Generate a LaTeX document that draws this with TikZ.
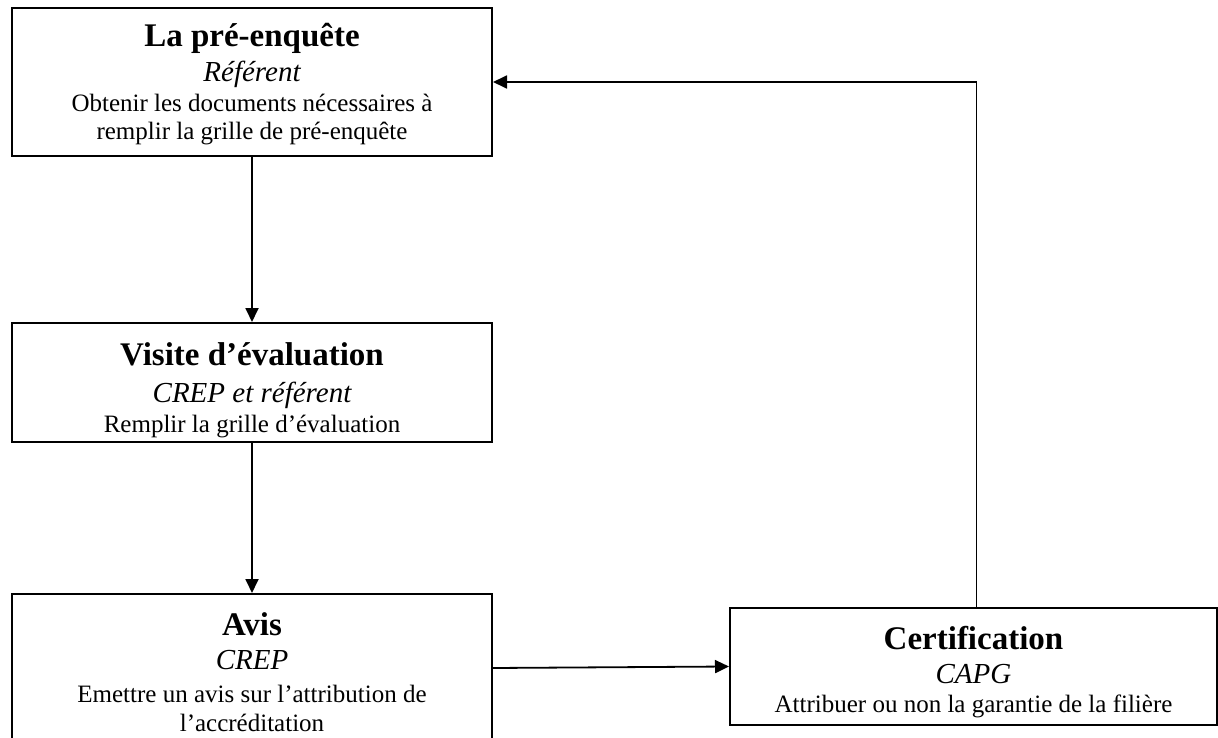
\documentclass[tikz,border=0pt]{standalone}
\usepackage{fontspec}
\setmainfont{Liberation Serif}
\usetikzlibrary{arrows.meta,calc}
\tikzset{
  boxnode/.style={draw=black,line width=2pt,rectangle,inner sep=0pt,anchor=north west},
  titletext/.style={anchor=base,inner sep=0pt,font=\fontsize{33}{38}\selectfont\bfseries},
  roletext/.style={anchor=base,inner sep=0pt,font=\fontsize{29}{33}\selectfont\itshape},
  desctext/.style={anchor=base,inner sep=0pt,font=\fontsize{25}{28}\selectfont},
  link/.style={line width=1.8pt,-{Triangle[length=14pt,width=13pt]}}
}
\begin{document}
\begin{tikzpicture}[x=1pt,y=-1pt]
\useasboundingbox (0,0) rectangle (1218,738);
\clip (0,0) rectangle (1218,738);
% boxes
\node[boxnode,minimum width=480pt,minimum height=148pt] (pre) at (11,7) {};
\node[boxnode,minimum width=480pt,minimum height=119pt] (visite) at (11,322) {};
\node[boxnode,minimum width=480pt,minimum height=170pt] (avis) at (11,593) {};
\node[boxnode,minimum width=487pt,minimum height=117pt] (cert) at (729,607) {};
% texts: pre-enquete
\node[titletext] (preT) at ($(pre.north)+(0,40)$) {La pré-enquête};
\node[roletext] (preR) at ($(pre.north)+(0,75)$) {Référent};
\node[desctext] (preD1) at ($(pre.north)+(0,105)$) {Obtenir les documents nécessaires à};
\node[desctext] (preD2) at ($(pre.north)+(0,133)$) {remplir la grille de pré-enquête};
% visite
\node[titletext] (visT) at ($(visite.north)+(0,43)$) {Visite d’évaluation};
\node[roletext] (visR) at ($(visite.north)+(0,80)$) {CREP et référent};
\node[desctext] (visD) at ($(visite.north)+(0,110)$) {Remplir la grille d’évaluation};
% avis
\node[titletext] (avT) at ($(avis.north)+(0,42)$) {Avis};
\node[roletext] (avR) at ($(avis.north)+(0,76)$) {CREP};
\node[desctext] (avD1) at ($(avis.north)+(0,109)$) {Emettre un avis sur l’attribution de};
\node[desctext] (avD2) at ($(avis.north)+(0,138)$) {l’accréditation};
% certification
\node[titletext] (ceT) at ($(cert.north)+(0,42)$) {Certification};
\node[roletext] (ceR) at ($(cert.north)+(0,76)$) {CAPG};
\node[desctext] (ceD) at ($(cert.north)+(0,105)$) {Attribuer ou non la garantie de la filière};
% connectors
\draw[link] (pre.south) -- (visite.north);
\draw[link] (visite.south) -- (avis.north);
\draw[link] ($(avis.north east)+(0,75)$) -- (cert.west);
\draw[link] ($(cert.north)+(3,0)$) |- (pre.east);
\end{tikzpicture}
\end{document}
